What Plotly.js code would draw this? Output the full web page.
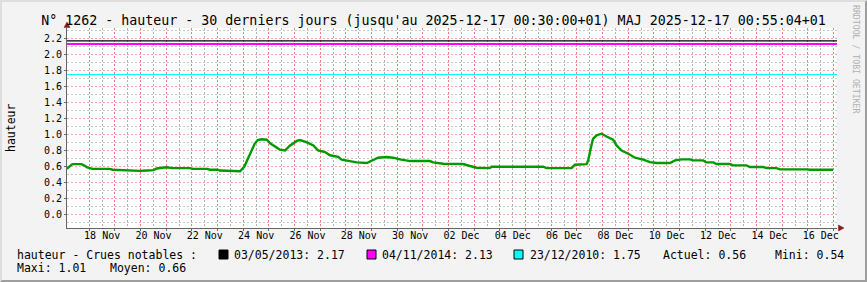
<!DOCTYPE html>
<html>
<head>
<meta charset="utf-8">
<script src="https://cdn.plot.ly/plotly-3.0.1.min.js"></script>
<style>
  html, body { margin: 0; padding: 0; background: #f3f3f3; }
  #wrap { position: relative; width: 867px; height: 282px; }
  #chart { width: 867px; height: 282px; }
  #frame { position: absolute; left: 0; top: 0; width: 863px; height: 278px;
           border-top: 2px solid #dedede; border-left: 2px solid #dedede;
           border-bottom: 2px solid #9e9e9e; border-right: 2px solid #9e9e9e;
           pointer-events: none; }
</style>
</head>
<body>
<div id="wrap"><div id="chart"></div><div id="frame"></div></div>
<script>
// ---- data ----
const times = [
  "2025-11-17 03:00","2025-11-17 05:00","2025-11-17 07:30","2025-11-17 09:00","2025-11-17 16:30",
  "2025-11-17 19:00","2025-11-17 22:00","2025-11-18 03:00","2025-11-18 19:00","2025-11-18 22:00",
  "2025-11-19 11:00","2025-11-19 14:00","2025-11-19 23:30","2025-11-20 06:00","2025-11-20 12:00",
  "2025-11-20 15:00","2025-11-20 21:00","2025-11-21 00:00","2025-11-21 06:00","2025-11-21 22:00",
  "2025-11-22 01:00","2025-11-22 14:00","2025-11-22 17:00","2025-11-23 00:00","2025-11-23 02:00",
  "2025-11-23 12:00","2025-11-23 21:00","2025-11-24 01:00","2025-11-24 06:00","2025-11-24 10:30",
  "2025-11-24 13:30","2025-11-24 17:00","2025-11-24 22:00","2025-11-25 01:00","2025-11-25 07:30",
  "2025-11-25 10:00","2025-11-25 15:00","2025-11-25 19:30","2025-11-26 02:00","2025-11-26 05:00",
  "2025-11-26 11:00","2025-11-26 17:30","2025-11-26 22:00","2025-11-27 04:30","2025-11-27 09:00",
  "2025-11-27 16:45","2025-11-27 20:00","2025-11-28 03:45","2025-11-28 10:00","2025-11-28 19:30",
  "2025-11-29 00:00","2025-11-29 06:00","2025-11-29 14:00","2025-11-29 20:00","2025-11-30 02:30",
  "2025-11-30 12:00","2025-12-01 06:30","2025-12-01 09:30","2025-12-01 19:00","2025-12-02 13:30",
  "2025-12-02 20:00","2025-12-03 02:00","2025-12-03 14:30","2025-12-03 16:00","2025-12-05 16:30",
  "2025-12-05 19:30","2025-12-06 19:00","2025-12-06 22:00","2025-12-07 09:00","2025-12-07 10:30",
  "2025-12-07 12:45","2025-12-07 15:00","2025-12-07 18:20","2025-12-07 23:00","2025-12-08 03:40",
  "2025-12-08 09:50","2025-12-08 13:00","2025-12-08 17:45","2025-12-09 00:00","2025-12-09 06:15",
  "2025-12-09 14:00","2025-12-09 20:15","2025-12-10 02:30","2025-12-10 15:00","2025-12-10 19:40",
  "2025-12-11 02:00","2025-12-11 09:40","2025-12-11 12:45","2025-12-11 22:00","2025-12-12 01:00",
  "2025-12-12 07:30","2025-12-12 10:30","2025-12-12 23:00","2025-12-13 02:00","2025-12-13 14:30",
  "2025-12-13 17:45","2025-12-14 06:00","2025-12-14 09:30","2025-12-14 18:30","2025-12-14 22:00",
  "2025-12-15 22:30","2025-12-16 02:00","2025-12-16 23:30"
];
const hauteur = [
  0.57,0.60,0.625,0.63,0.63,
  0.615,0.59,0.57,0.57,0.56,
  0.555,0.545,0.545,0.55,0.555,
  0.575,0.58,0.59,0.58,0.58,
  0.57,0.57,0.56,0.56,0.55,
  0.545,0.54,0.60,0.75,0.88,
  0.93,0.94,0.935,0.89,0.835,
  0.81,0.80,0.86,0.92,0.93,
  0.905,0.863,0.80,0.78,0.74,
  0.72,0.685,0.668,0.651,0.643,
  0.676,0.71,0.718,0.71,0.689,
  0.668,0.668,0.651,0.635,0.631,
  0.606,0.585,0.58,0.597,0.597,
  0.58,0.58,0.622,0.63,0.676,
  0.82,0.946,0.99,1.01,0.975,
  0.934,0.863,0.80,0.76,0.71,
  0.685,0.655,0.643,0.643,0.676,
  0.689,0.689,0.676,0.676,0.651,
  0.651,0.631,0.631,0.614,0.614,
  0.593,0.593,0.58,0.58,0.564,
  0.564,0.56,0.56
];
const crueDates  = ["03/05/2013", "04/11/2014", "23/12/2010"];
const crueValues = [2.17, 2.13, 1.75];
const crueColors = ["#000000", "#ff00ff", "#00ffff"];
const statLabels = ["Actuel", "Mini", "Maxi", "Moyen"];
const statValues = ["0.56", "0.54", "1.01", "0.66"];
const tickDays = ["18 Nov","19 Nov","20 Nov","21 Nov","22 Nov","23 Nov","24 Nov","25 Nov","26 Nov",
  "27 Nov","28 Nov","29 Nov","30 Nov","01 Dec","02 Dec","03 Dec","04 Dec","05 Dec","06 Dec","07 Dec",
  "08 Dec","09 Dec","10 Dec","11 Dec","12 Dec","13 Dec","14 Dec","15 Dec","16 Dec"];
const tickNoons = tickDays.map((d, i) => {
  const t = new Date(Date.UTC(2025, 10, 18 + i, 12));
  return t.toISOString().slice(0, 10) + " 12:00";
});
const titleText = "N° 1262 - hauteur - 30 derniers jours (jusqu'au 2025-12-17 00:30:00+01) MAJ 2025-12-17 00:55:04+01";

// ---- layout helpers ----
const W = 867, H = 282, L = 67, R = 30, T = 28, B = 54;
const PW = W - L - R, PH = H - T - B;
const px = v => (v - L) / PW;          // pixel x -> paper
const py = v => (H - B - v) / PH;      // pixel y -> paper
const xRange = ["2025-11-17 03:09", "2025-12-17 03:09"];
const yRange = [-0.16875, 2.33125];
const mono = "DejaVu Sans Mono, monospace";
const gridRed = "rgba(240,100,100,0.85)";
const gridGrey = "rgba(150,150,150,0.75)";
const gridRedY = "rgba(240,100,100,0.55)";
const gridGreyY = "rgba(150,150,150,0.5)";
const dash = "2px,2px";

const traces = [];
const crueWidths = [1.4, 2, 1];
crueValues.forEach((v, i) => {
  traces.push({ x: xRange, y: [v, v], mode: "lines", line: { color: crueColors[i], width: crueWidths[i] },
                hoverinfo: "skip", showlegend: false });
});
traces.push({ x: times, y: hauteur, mode: "lines", line: { color: "#009a00", width: 2.4 }, showlegend: false });
traces.push({ x: [xRange[0]], y: [0], xaxis: "x2", yaxis: "y2", mode: "markers", marker: { opacity: 0 },
              hoverinfo: "skip", showlegend: false });

const legFont = { family: mono, size: 11.5, color: "#000" };
const annotations = [];
const shapes = [];
const row1 = py(255), row2 = py(268);
annotations.push({ xref: "paper", yref: "paper", x: px(16), y: row1, xanchor: "left", yanchor: "middle",
  text: "hauteur - Crues notables :", showarrow: false, font: legFont, borderpad: 0 });
const sqX = [219, 367, 514];
const txtX = [233, 381, 529];
crueValues.forEach((v, i) => {
  shapes.push({ type: "rect", xref: "paper", yref: "paper", x0: px(sqX[i]), x1: px(sqX[i] + 9),
    y0: py(259), y1: py(250), fillcolor: crueColors[i], line: { color: "#000", width: 1 } });
  annotations.push({ xref: "paper", yref: "paper", x: px(txtX[i]), y: row1, xanchor: "left", yanchor: "middle",
    text: crueDates[i] + ": " + v.toFixed(2), showarrow: false, font: legFont, borderpad: 0 });
});
const statX = [662, 774, 16, 109];
const statY = [row1, row1, row2, row2];
statLabels.forEach((s, i) => {
  annotations.push({ xref: "paper", yref: "paper", x: px(statX[i]), y: statY[i], xanchor: "left", yanchor: "middle",
    text: s + ": " + statValues[i], showarrow: false, font: legFont, borderpad: 0 });
});
annotations.push({ xref: "paper", yref: "paper", x: px(10.5), y: py(127.5), xanchor: "center", yanchor: "middle",
  text: "hauteur", textangle: -90, showarrow: false, font: legFont, borderpad: 0 });
annotations.push({ xref: "paper", yref: "paper", x: px(856), y: py(59), xanchor: "center", yanchor: "middle",
  text: "RRDTOOL / TOBI OETIKER", textangle: 90, showarrow: false,
  font: { family: mono, size: 8.2, color: "#b0b0b0" }, borderpad: 0 });

// axis arrows
shapes.push({ type: "path", xref: "paper", yref: "paper",
  path: `M ${px(67)},${py(22)} L ${px(64)},${py(27.5)} L ${px(70)},${py(27.5)} Z`,
  fillcolor: "#8b1a1a", line: { color: "#8b1a1a", width: 0.5 } });
shapes.push({ type: "path", xref: "paper", yref: "paper",
  path: `M ${px(844)},${py(228)} L ${px(838.5)},${py(225)} L ${px(838.5)},${py(231)} Z`,
  fillcolor: "#8b1a1a", line: { color: "#8b1a1a", width: 0.5 } });

const layout = {
  width: W, height: H,
  margin: { l: L, r: R, t: T, b: B, pad: 0 },
  paper_bgcolor: "#f3f3f3", plot_bgcolor: "#ffffff",
  showlegend: false,
  title: { text: titleText, font: { family: mono, size: 13.3, color: "#000" },
           xref: "container", yref: "container", x: 0.5, y: 1 - 20 / H, xanchor: "center", yanchor: "middle" },
  // midnight grid (red)
  xaxis: {
    type: "date", range: xRange, tick0: "2025-11-18", dtick: 86400000,
    showgrid: true, gridcolor: gridRed, griddash: dash, gridwidth: 1,
    showticklabels: false, ticks: "outside", ticklen: 2, tickcolor: "#666",
    showline: true, linecolor: "#666", linewidth: 1, zeroline: false
  },
  // noon grid (grey) + labels every 2 days
  xaxis2: {
    type: "date", overlaying: "x", anchor: "y", side: "bottom", range: xRange,
    tickmode: "array", tickvals: tickNoons, ticktext: tickDays.map((d, i) => i % 2 === 0 ? d : ""),
    showgrid: true, gridcolor: gridGrey, griddash: dash, gridwidth: 1,
    ticks: "", showline: false, zeroline: false,
    tickfont: { family: mono, size: 10, color: "#000" }
  },
  yaxis: {
    range: yRange, tick0: 0, dtick: 0.2, tickformat: ".1f",
    showgrid: true, gridcolor: gridRedY, griddash: dash, gridwidth: 1,
    ticks: "outside", ticklen: 2, tickcolor: "#666",
    showline: true, linecolor: "#666", linewidth: 1, zeroline: false,
    tickfont: { family: mono, size: 10, color: "#000" }
  },
  yaxis2: {
    overlaying: "y", anchor: "x", range: yRange, tick0: 0.1, dtick: 0.2,
    showgrid: true, gridcolor: gridGreyY, griddash: dash, gridwidth: 1,
    showticklabels: false, ticks: "", showline: false, zeroline: false
  },
  annotations: annotations,
  shapes: shapes
};
Plotly.newPlot("chart", traces, layout, { displayModeBar: false, staticPlot: true });
</script>
</body>
</html>
